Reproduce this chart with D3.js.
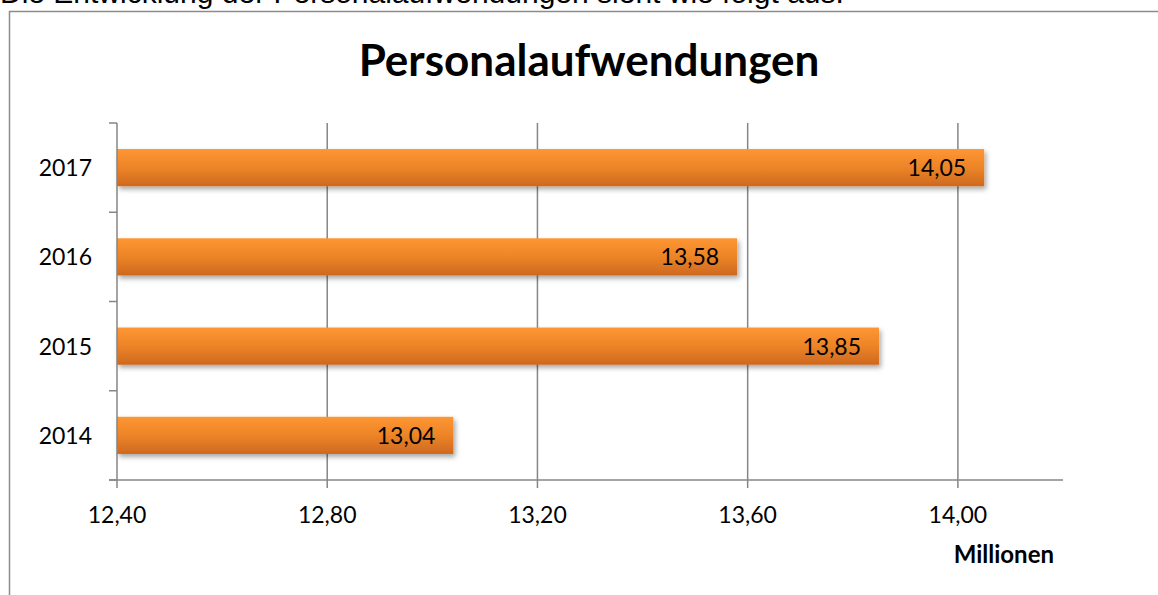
<!DOCTYPE html>
<html lang="de">
<head>
    <meta charset="UTF-8">
    <title>Personalaufwendungen</title>
    <script src="https://d3js.org/d3.v7.min.js"></script>
    <style>
        body { margin: 0; background: #fff; overflow: hidden; }
        svg { display: block; }
        .lead { font-family: "Liberation Sans", Arial, sans-serif; font-size: 30px; fill: #000; }
        .title { font-family: Lato, sans-serif; font-weight: bold; font-size: 44px; fill: #000; }
        .tick-label { font-family: Lato, sans-serif; font-size: 23px; fill: #000; }
        .unit { font-family: Lato, sans-serif; font-weight: bold; font-size: 24px; fill: #000; }
    </style>
</head>
<body>
<svg width="1158" height="595"></svg>
<script>
    // data
    const years = ["2017", "2016", "2015", "2014"];
    const values = [14.05, 13.58, 13.85, 13.04];
    const xTicks = [12.40, 12.80, 13.20, 13.60, 14.00];
    const xDomain = [12.40, 14.20];

    const svg = d3.select("svg");
    const fmt = v => d3.format(".2f")(v).replace(".", ",");

    // plot area
    const plotL = 117, plotR = 1063, plotT = 123, plotB = 480;

    const x = d3.scaleLinear().domain(xDomain).range([plotL, plotR]);
    const y = d3.scaleBand().domain(years).range([plotT, plotB]).paddingInner(1.4 / 2.4).paddingOuter(0.7 / 2.4);
    const yOuter = d3.scaleBand().domain(years).range([plotT, plotB]);

    // gradient + shadow
    const defs = svg.append("defs");
    const grad = defs.append("linearGradient").attr("id", "barGrad")
        .attr("x1", 0).attr("y1", 0).attr("x2", 0).attr("y2", 1);
    grad.append("stop").attr("offset", "0%").attr("stop-color", "#ff9633");
    grad.append("stop").attr("offset", "50%").attr("stop-color", "#ec8428");
    grad.append("stop").attr("offset", "100%").attr("stop-color", "#cf681e");
    const shadow = defs.append("filter").attr("id", "shadow")
        .attr("x", "-5%").attr("y", "-30%").attr("width", "115%").attr("height", "180%");
    shadow.append("feDropShadow").attr("dx", 2).attr("dy", 3).attr("stdDeviation", 2.5)
        .attr("flood-color", "#000").attr("flood-opacity", 0.35);

    // lead sentence, clipped at the top of the page
    svg.append("text").attr("class", "lead").attr("x", 0).attr("y", 3)
        .text("Die Entwicklung der Personalaufwendungen sieht wie folgt aus.");

    // chart frame
    svg.append("rect").attr("x", 9.5).attr("y", 11.5).attr("width", 1200).attr("height", 700)
        .attr("fill", "none").attr("stroke", "#8c8c8c").attr("stroke-width", 1.5);

    svg.append("text").attr("class", "title").attr("x", 589).attr("y", 76)
        .attr("text-anchor", "middle").text("Personalaufwendungen");

    // gridlines
    svg.append("g").selectAll("line").data(xTicks.slice(1)).join("line")
        .attr("x1", d => x(d)).attr("x2", d => x(d))
        .attr("y1", plotT).attr("y2", plotB)
        .attr("stroke", "#868686").attr("stroke-width", 1.5);

    // bars
    svg.append("g").selectAll("rect").data(values).join("rect")
        .attr("x", x(xDomain[0]))
        .attr("y", (d, i) => y(years[i]))
        .attr("width", d => x(d) - x(xDomain[0]))
        .attr("height", y.bandwidth())
        .attr("fill", "url(#barGrad)")
        .attr("filter", "url(#shadow)");

    // value labels
    svg.append("g").selectAll("text").data(values).join("text")
        .attr("class", "tick-label")
        .attr("x", d => x(d) - 18)
        .attr("y", (d, i) => y(years[i]) + y.bandwidth() / 2 + 8.5)
        .attr("text-anchor", "end")
        .text(d => fmt(d));

    // y axis
    const yAxis = svg.append("g").attr("transform", `translate(${plotL},0)`);
    yAxis.append("line").attr("x1", 0).attr("x2", 0).attr("y1", plotT).attr("y2", plotB)
        .attr("stroke", "#868686").attr("stroke-width", 1.5);
    const bounds = years.map(c => yOuter(c)).concat([plotB]);
    yAxis.selectAll(".yt").data(bounds).join("line").attr("class", "yt")
        .attr("x1", -8).attr("x2", 0).attr("y1", d => d).attr("y2", d => d)
        .attr("stroke", "#868686").attr("stroke-width", 1.5);
    yAxis.selectAll("text").data(years).join("text")
        .attr("class", "tick-label")
        .attr("x", -25)
        .attr("y", d => yOuter(d) + yOuter.bandwidth() / 2 + 8.5)
        .attr("text-anchor", "end")
        .text(d => d);

    // x axis
    const xAxis = svg.append("g").attr("transform", `translate(0,${plotB})`);
    xAxis.append("line").attr("x1", plotL - 8).attr("x2", plotR).attr("y1", 0).attr("y2", 0)
        .attr("stroke", "#868686").attr("stroke-width", 1.5);
    xAxis.selectAll(".xt").data(xTicks).join("line").attr("class", "xt")
        .attr("x1", d => x(d)).attr("x2", d => x(d)).attr("y1", 0).attr("y2", 8)
        .attr("stroke", "#868686").attr("stroke-width", 1.5);
    xAxis.selectAll("text").data(xTicks).join("text")
        .attr("class", "tick-label")
        .attr("x", d => x(d)).attr("y", 43)
        .attr("text-anchor", "middle")
        .text(d => fmt(d));

    svg.append("text").attr("class", "unit").attr("x", 1054).attr("y", 563)
        .attr("text-anchor", "end").text("Millionen");
</script>
</body>
</html>
